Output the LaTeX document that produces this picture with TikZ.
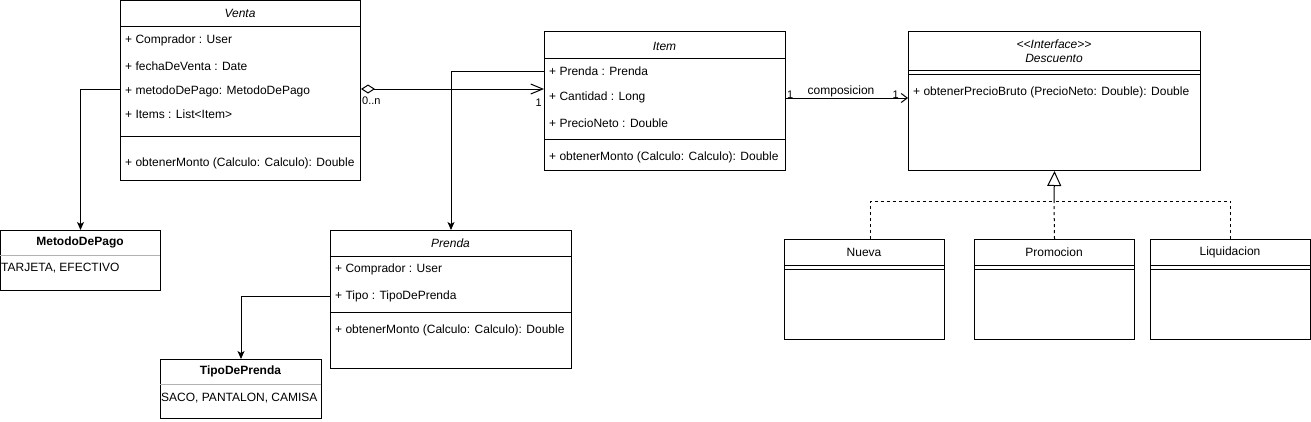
\documentclass[tikz,border=0pt]{standalone}
\usepackage{fontspec}
\setmainfont{Liberation Sans}
\usetikzlibrary{arrows.meta}
\begin{document}
\begin{tikzpicture}[x=1pt,y=-1pt,
  cls/.style={draw, line width=1pt, inner sep=0pt, anchor=north west},
  sep/.style={line width=1pt},
  row/.style={inner sep=0pt, anchor=west, font=\fontsize{12pt}{14pt}\selectfont},
  ttl/.style={inner sep=0pt, font=\fontsize{12pt}{14pt}\selectfont\itshape},
  btl/.style={inner sep=0pt, font=\fontsize{12pt}{14pt}\selectfont\bfseries},
  ntl/.style={inner sep=0pt, font=\fontsize{12pt}{14pt}\selectfont},
  lbl/.style={inner sep=0pt, font=\fontsize{11pt}{13pt}\selectfont},
  conn/.style={line width=1pt},
  farrow/.style={conn, -{Stealth[length=8pt,width=7pt,inset=2pt]}},
  dsh/.style={conn, dash pattern=on 3pt off 3pt}
]
\useasboundingbox (0,0) rectangle (1311,421);

% Venta
\node[cls, minimum width=240pt, minimum height=180pt] (venta) at (120,0) {};
\node[ttl] (vt) at (240,13) {Venta};
\draw[sep] (120,26) -- (360,26);
\node[row] (v1) at (125,40) {+ Comprador : User};
\node[row] (v2) at (125,66) {+ fechaDeVenta : Date};
\node[row] (v3) at (125,91) {+ metodoDePago: MetodoDePago};
\node[row] (v4) at (125,114) {+ Items : List<Item>};
\draw[sep] (120,136) -- (360,136);
\node[row] (v5) at (125,163) {+ obtenerMonto (Calculo: Calculo): Double};

% MetodoDePago
\node[cls, minimum width=160pt, minimum height=60pt] (metodo) at (0,230) {};
\node[btl] at (80,242) {MetodoDePago};
\draw[line width=1pt, gray!60] (0,255) -- (160,255);
\node[row] at (1,268) {TARJETA, EFECTIVO};

% Item
\node[cls, minimum width=241pt, minimum height=139pt] (item) at (544,31) {};
\node[ttl] at (664.5,46) {Item};
\draw[sep] (544,58) -- (785,58);
\node[row] (i1) at (549,71) {+ Prenda : Prenda};
\node[row] (i2) at (549,97) {+ Cantidad : Long};
\node[row] (i3) at (549,123) {+ PrecioNeto : Double};
\draw[sep] (544,139) -- (785,139);
\node[row] (i4) at (549,157) {+ obtenerMonto (Calculo: Calculo): Double};

% Descuento
\node[cls, minimum width=292pt, minimum height=139pt] (desc) at (908,31) {};
\node[ttl] at (1054,44) {<{}<Interface>{}>};
\node[ttl] at (1054,58) {Descuento};
\draw[sep] (908,70) -- (1200,70);
\draw[sep] (908,74) -- (1200,74);
\node[row] (d1) at (913,92) {+ obtenerPrecioBruto (PrecioNeto: Double): Double};

% Prenda
\node[cls, minimum width=241pt, minimum height=138pt] (prenda) at (330,230) {};
\node[ttl] at (450.5,243) {Prenda};
\draw[sep] (330,256) -- (571,256);
\node[row] (p1) at (335,269) {+ Comprador : User};
\node[row] (p2) at (335,296) {+ Tipo : TipoDePrenda};
\draw[sep] (330,312) -- (571,312);
\node[row] (p3) at (335,330) {+ obtenerMonto (Calculo: Calculo): Double};

% TipoDePrenda
\node[cls, minimum width=161pt, minimum height=59pt] (tipo) at (160,359) {};
\node[btl] at (240.5,371) {TipoDePrenda};
\draw[line width=1pt, gray!60] (160,384) -- (321,384);
\node[row] at (161,398) {SACO, PANTALON, CAMISA};

% Subclasses
\node[cls, minimum width=160pt, minimum height=100pt] (nueva) at (784,239) {};
\node[ntl] at (864,252) {Nueva};
\draw[sep] (784,265) -- (944,265);
\draw[sep] (784,269) -- (944,269);

\node[cls, minimum width=160pt, minimum height=100pt] (promo) at (974,239) {};
\node[ntl] at (1054,252) {Promocion};
\draw[sep] (974,265) -- (1134,265);
\draw[sep] (974,269) -- (1134,269);

\node[cls, minimum width=160pt, minimum height=100pt] (liq) at (1150,239) {};
\node[ntl] at (1230,252) {Liquidacion};
\draw[sep] (1150,265) -- (1310,265);
\draw[sep] (1150,269) -- (1310,269);

% Connectors
\draw[farrow] ([yshift=2pt]v3.west -| venta.west) -| (metodo.north);
\draw[conn, {Diamond[open,length=14pt,width=9pt]}-{Straight Barb[length=12pt,width=10pt]}]
  ([yshift=2pt]v3.west -| venta.east) -- ([yshift=2pt]v3.west -| item.west);
\node[lbl, anchor=west] at (362,101) {0..n};
\node[lbl, anchor=east] at (542,103) {1};
\draw[farrow] (i1.west -| item.west) -| (prenda.north);
\draw[farrow] (p2.west -| prenda.west) -| (tipo.north);
\draw[conn, -{Straight Barb[length=6pt,width=9pt]}]
  ([yshift=-1pt]i2.west -| item.east) -- ([yshift=-1pt]i2.west -| desc.west);
\node[lbl, anchor=west] at (787,95) {1};
\node[ntl] at (841,91) {composicion};
\node[lbl, anchor=east] at (899,95) {1};

\coordinate (gj) at (1054,201);
\draw[conn, {Triangle[open,length=15pt,width=14pt]}-] (desc.south) -- (gj);
\draw[dsh] (promo.north) -- (gj);
\draw[dsh] ([xshift=6pt]nueva.north) |- (gj);
\draw[dsh] (liq.north) |- (gj);
\end{tikzpicture}
\end{document}
